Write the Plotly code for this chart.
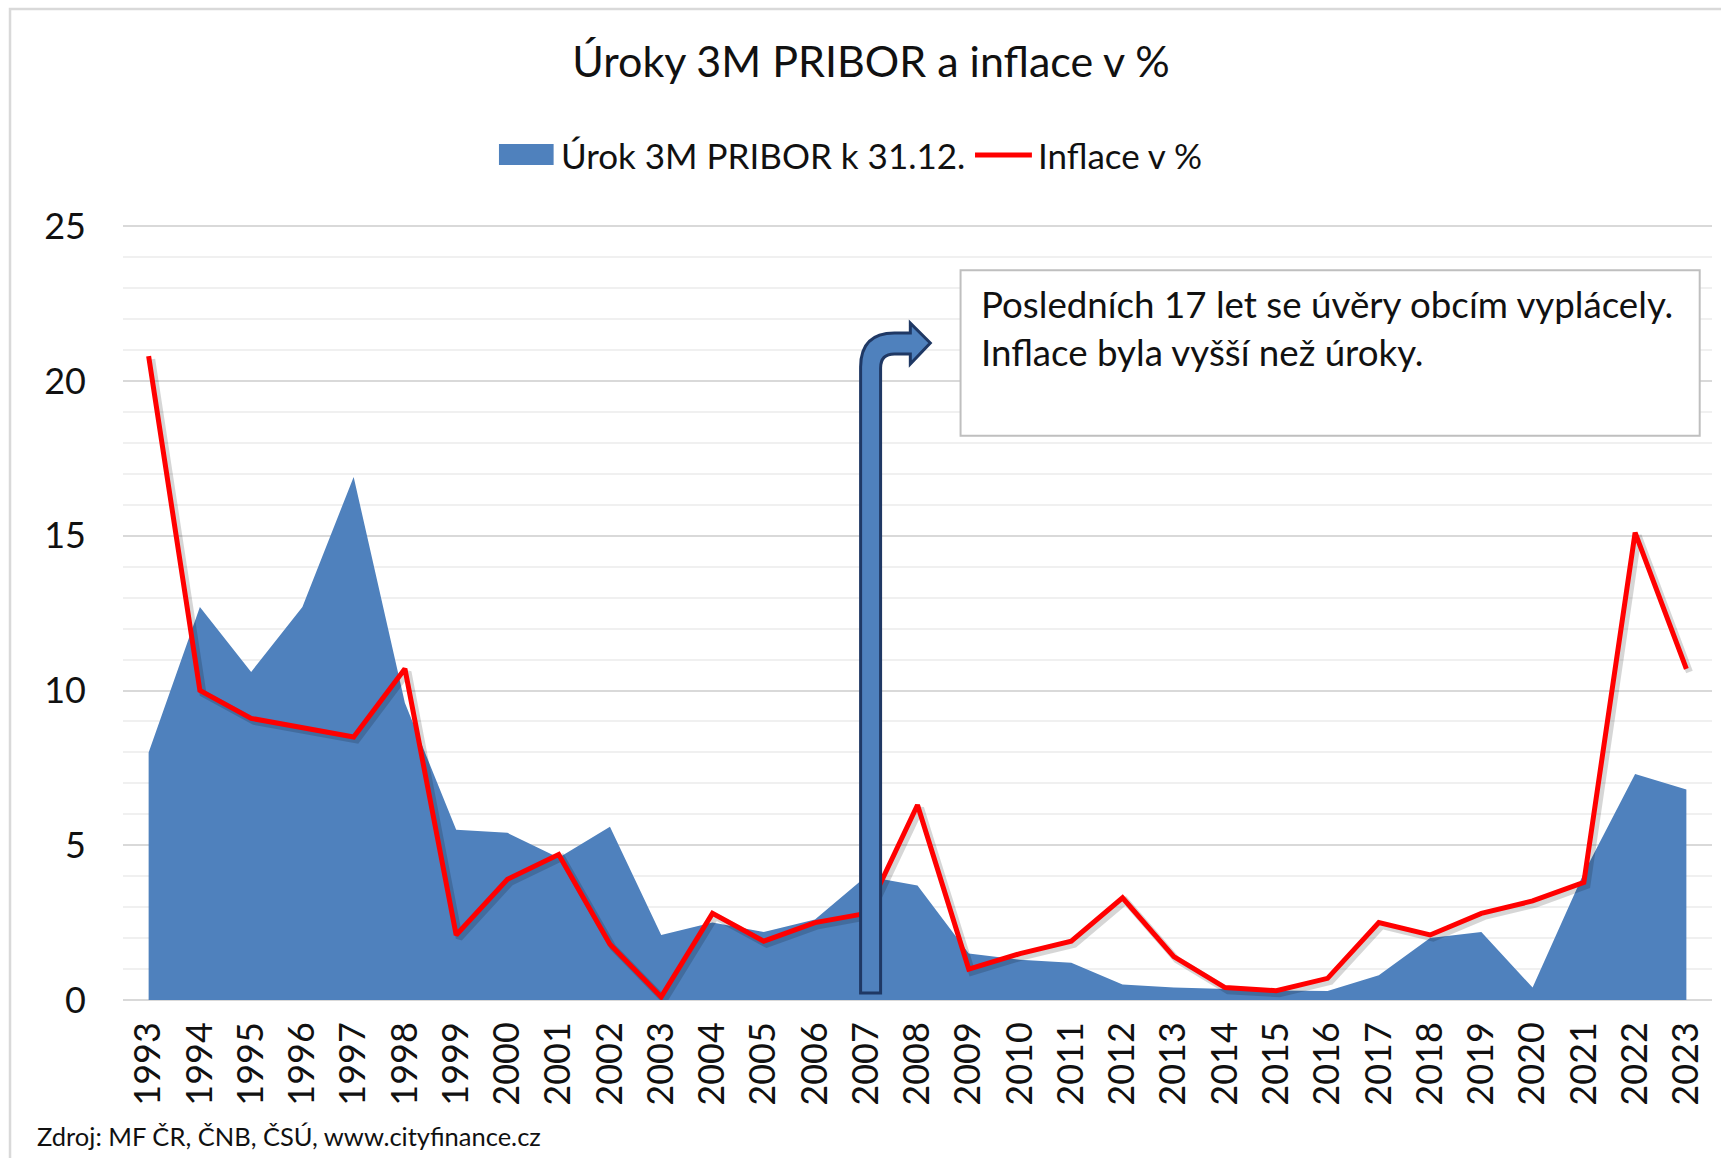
import plotly.graph_objects as go

years = list(range(1993, 2024))
pribor = [8.0, 12.7, 10.6, 12.7, 16.9, 9.6, 5.5, 5.4, 4.6, 5.6, 2.1, 2.5, 2.2, 2.6, 4.0,
          3.7, 1.5, 1.3, 1.2, 0.5, 0.4, 0.35, 0.31, 0.29, 0.8, 2.0, 2.2, 0.4, 4.1, 7.3, 6.8]
inflace = [20.8, 10.0, 9.1, 8.8, 8.5, 10.7, 2.1, 3.9, 4.7, 1.8, 0.1, 2.8, 1.9, 2.5, 2.8,
           6.3, 1.0, 1.5, 1.9, 3.3, 1.4, 0.4, 0.3, 0.7, 2.5, 2.1, 2.8, 3.2, 3.8, 15.1, 10.7]
tick_labels = [str(y) for y in years]

title_text = "Úroky 3M PRIBOR a inflace v %"
name_pribor = "Úrok 3M PRIBOR k 31.12."
name_inflace = "Inflace v %"
note_lines = ["Posledních 17 let se úvěry obcím vyplácely.", "Inflace byla vyšší než úroky."]
source_text = "Zdroj: MF ČR, ČNB, ČSÚ, www.cityfinance.cz"

FONT = "Lato"
BLUE = "#4F81BD"
RED = "#FF0000"
TXT = "#111111"

fig = go.Figure()
fig.add_trace(go.Scatter(x=years, y=pribor, name=name_pribor, mode="lines",
                         fill="tozeroy", fillcolor=BLUE, line=dict(width=0, color=BLUE),
                         showlegend=False, hoverinfo="x+y"))
# soft shadow of the inflation line
fig.add_trace(go.Scatter(x=[y + 0.06 for y in years], y=[v - 0.1 for v in inflace],
                         mode="lines", line=dict(color="rgba(0,0,0,0.16)", width=7),
                         showlegend=False, hoverinfo="skip"))
fig.add_trace(go.Scatter(x=years, y=inflace, name=name_inflace, mode="lines",
                         line=dict(color=RED, width=5), showlegend=False))

# bent arrow (decoration) in data coordinates around year 2007
ax_l, ax_r, ax_c, ax_h, ax_tip = 2006.89, 2007.28, 2007.55, 2007.86, 2008.25
ay_b, ay_top, ay_arm_b, ay_head_t, ay_head_b, ay_tipy = 0.23, 21.55, 20.87, 21.87, 20.55, 21.23
arrow_path = (f"M {ax_l},{ay_b} L {ax_l},20.45 Q {ax_l},{ay_top} {ax_c},{ay_top} "
              f"L {ax_h},{ay_top} L {ax_h},{ay_head_t} L {ax_tip},{ay_tipy} L {ax_h},{ay_head_b} "
              f"L {ax_h},{ay_arm_b} L {ax_c},{ay_arm_b} Q {ax_r},{ay_arm_b} {ax_r},20.42 "
              f"L {ax_r},{ay_b} Z")

shapes = [
    dict(type="path", xref="x", yref="y", path=arrow_path, fillcolor=BLUE,
         line=dict(color="#1F3864", width=3), layer="above"),
    # note box
    dict(type="rect", xref="x", yref="y", x0=2008.84, x1=2023.26, y0=18.23, y1=23.58,
         fillcolor="white", line=dict(color="#BFBFBF", width=2), layer="above"),
    # outer chart border
    dict(type="rect", xref="paper", yref="paper", x0=-0.0711, x1=1.2, y0=-0.4, y1=1.2787,
         line=dict(color="#D9D9D9", width=2.5), fillcolor="rgba(0,0,0,0)", layer="below"),
    # legend keys
    dict(type="rect", xref="paper", yref="paper", x0=0.2366, x1=0.2710, y0=1.0774, y1=1.1045,
         fillcolor=BLUE, line=dict(width=0), layer="above"),
    dict(type="line", xref="paper", yref="paper", x0=0.5362, x1=0.5720, y0=1.0903, y1=1.0903,
         line=dict(color=RED, width=5), layer="above"),
]

annotations = [
    dict(xref="x", yref="y", x=2009.2, y=22.5, text=note_lines[0], showarrow=False,
         xanchor="left", yanchor="middle", font=dict(family=FONT, size=36.7, color=TXT)),
    dict(xref="x", yref="y", x=2009.2, y=20.95, text=note_lines[1], showarrow=False,
         xanchor="left", yanchor="middle", font=dict(family=FONT, size=36.7, color=TXT)),
    dict(xref="paper", yref="paper", x=-0.0555, y=-0.1755, text=source_text, showarrow=False,
         xanchor="left", yanchor="middle", font=dict(family=FONT, size=25.5, color=TXT)),
    # legend labels
    dict(xref="paper", yref="paper", x=0.2745, y=1.0903, text=name_pribor, showarrow=False,
         xanchor="left", yanchor="middle", font=dict(family=FONT, size=35, color=TXT)),
    dict(xref="paper", yref="paper", x=0.5745, y=1.0903, text=name_inflace, showarrow=False,
         xanchor="left", yanchor="middle", font=dict(family=FONT, size=35, color=TXT)),
]

fig.update_layout(
    width=1721, height=1158,
    margin=dict(l=123, r=9, t=225, b=158),
    paper_bgcolor="white", plot_bgcolor="white",
    font=dict(family=FONT, size=36, color=TXT),
    title=dict(text=title_text, x=871 / 1721, xanchor="center", y=1 - 62 / 1158,
               yanchor="middle", font=dict(family=FONT, size=43, color=TXT)),
    showlegend=False,
    shapes=shapes, annotations=annotations,
    xaxis=dict(range=[1992.5, 2023.5], tickmode="array", tickvals=years, ticktext=tick_labels,
               tickangle=-90, showgrid=False, zeroline=False, showline=False, ticks="",
               ticklabelstandoff=14, tickfont=dict(family=FONT, size=36, color=TXT)),
    yaxis=dict(range=[0, 25.04], tickvals=[0, 5, 10, 15, 20, 25], showgrid=True,
               gridcolor="#D9D9D9", gridwidth=2,
               zeroline=True, zerolinecolor="#D9D9D9", zerolinewidth=2, showline=False,
               ticks="", ticklabelstandoff=36, tickfont=dict(family=FONT, size=36, color=TXT),
               minor=dict(dtick=1, showgrid=True, gridcolor="#F0F0F0", gridwidth=2)),
)

fig.write_html("out.html", post_script="document.body.style.margin='0px';",
               config={"displayModeBar": False})
